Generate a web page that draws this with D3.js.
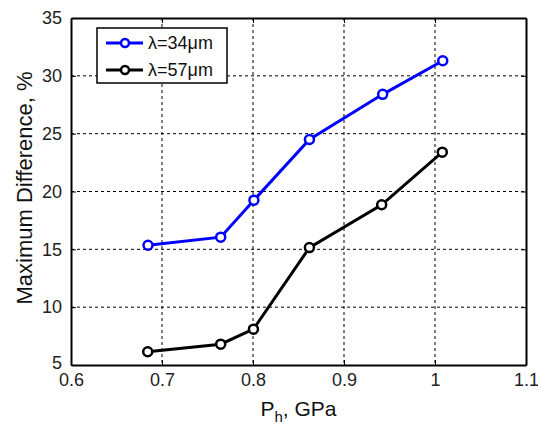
<html><head>
<script src="https://d3js.org/d3.v7.min.js"></script>
<style>
body { margin: 0; background: #fff; font-family: Arial, "Liberation Sans", sans-serif; }
</style>
</head>
<body>
<svg id="chart" width="538" height="426"></svg>
<script>
// data
const pressure34 = [0.6846, 0.7645, 0.801, 0.862, 0.9425, 1.0085];
const diff34 = [15.35, 16.05, 19.25, 24.5, 28.4, 31.3];
const pressure57 = [0.6843, 0.7645, 0.8005, 0.862, 0.9414, 1.008];
const diff57 = [6.15, 6.8, 8.1, 15.15, 18.85, 23.4];
const seriesNames = ["\u03bb=34\u03bcm", "\u03bb=57\u03bcm"];
const seriesColors = ["#0000ff", "#000000"];
const xTicks = [0.6, 0.7, 0.8, 0.9, 1, 1.1];
const yTicks = [5, 10, 15, 20, 25, 30, 35];

const svg = d3.select("#chart");
const margin = {top: 18, right: 12, bottom: 61, left: 71};
const width = 538 - margin.left - margin.right;
const height = 426 - margin.top - margin.bottom;
const g = svg.append("g").attr("transform", "translate(" + margin.left + "," + margin.top + ")");

const x = d3.scaleLinear().domain([0.6, 1.1]).range([0, width]);
const y = d3.scaleLinear().domain([5, 35]).range([height, 0]);

// grid
g.selectAll("line.vgrid").data(xTicks.slice(1, -1))
    .join("line").attr("class", "vgrid")
    .attr("x1", d => x(d)).attr("x2", d => x(d))
    .attr("y1", 0).attr("y2", height)
    .attr("stroke", "#000").attr("stroke-width", 1).attr("stroke-dasharray", "3,3");
g.selectAll("line.hgrid").data(yTicks.slice(1, -1))
    .join("line").attr("class", "hgrid")
    .attr("x1", 0).attr("x2", width)
    .attr("y1", d => y(d)).attr("y2", d => y(d))
    .attr("stroke", "#000").attr("stroke-width", 1).attr("stroke-dasharray", "3,3");

// axes
const xAxis = g.append("g").attr("transform", "translate(0," + height + ")")
    .call(d3.axisBottom(x).tickValues(xTicks).tickFormat(d3.format("")).tickSizeInner(-5).tickSizeOuter(0).tickPadding(10));
const yAxis = g.append("g")
    .call(d3.axisLeft(y).tickValues(yTicks).tickFormat(d3.format("")).tickSizeInner(-5).tickSizeOuter(0).tickPadding(9));
const xAxisTop = g.append("g")
    .call(d3.axisTop(x).tickValues(xTicks).tickFormat("").tickSizeInner(-5).tickSizeOuter(0));
const yAxisRight = g.append("g").attr("transform", "translate(" + width + ",0)")
    .call(d3.axisRight(y).tickValues(yTicks).tickFormat("").tickSizeInner(-5).tickSizeOuter(0));
[xAxis, yAxis, xAxisTop, yAxisRight].forEach(a => {
    a.select(".domain").attr("stroke", "#000").attr("stroke-width", 2);
    a.selectAll("text").attr("font-size", 18).attr("font-family", "Arial, 'Liberation Sans', sans-serif").attr("fill", "#222");
});
xAxis.selectAll("text").attr("dy", "0.62em");
// lowest y label sits a little higher so it clears the 0.6 label
yAxis.selectAll("text").filter(d => d === 5).attr("dy", "0.2em");

// lines
const line = d3.line().x(d => x(d[0])).y(d => y(d[1]));
const series = [
    d3.zip(pressure34, diff34),
    d3.zip(pressure57, diff57)
];
series.forEach((s, i) => {
    g.append("path").datum(s)
        .attr("fill", "none").attr("stroke", seriesColors[i]).attr("stroke-width", 3)
        .attr("d", line);
    g.selectAll("circle.s" + i).data(s)
        .join("circle").attr("class", "s" + i)
        .attr("cx", d => x(d[0])).attr("cy", d => y(d[1]))
        .attr("r", 4.5).attr("fill", "#fff")
        .attr("stroke", seriesColors[i]).attr("stroke-width", 2.5);
});

// legend
const legend = svg.append("g").attr("transform", "translate(97,28)");
legend.append("rect").attr("width", 130).attr("height", 55)
    .attr("fill", "#fff").attr("stroke", "#000").attr("stroke-width", 1.5);
seriesNames.forEach((name, i) => {
    const ly = 15 + i * 27;
    legend.append("line").attr("x1", 9).attr("x2", 46).attr("y1", ly).attr("y2", ly)
        .attr("stroke", seriesColors[i]).attr("stroke-width", 3);
    legend.append("circle").attr("cx", 28).attr("cy", ly).attr("r", 4)
        .attr("fill", "#fff").attr("stroke", seriesColors[i]).attr("stroke-width", 2.5);
    legend.append("text").attr("x", 51).attr("y", ly).attr("dy", "0.35em")
        .attr("font-size", 18).attr("fill", "#111").text(name);
});

// axis titles
const xt = svg.append("text").attr("x", margin.left + width / 2).attr("y", 416)
    .attr("text-anchor", "middle").attr("font-size", 21).attr("fill", "#111");
xt.append("tspan").text("P");
xt.append("tspan").attr("font-size", 15).attr("dy", 6).text("h");
xt.append("tspan").attr("dy", -6).text(", GPa");

svg.append("text").attr("transform", "translate(32," + 188 + ") rotate(-90)")
    .attr("text-anchor", "middle").attr("font-size", 22).attr("fill", "#111")
    .text("Maximum Difference, %");
</script>
</body>
</html>
